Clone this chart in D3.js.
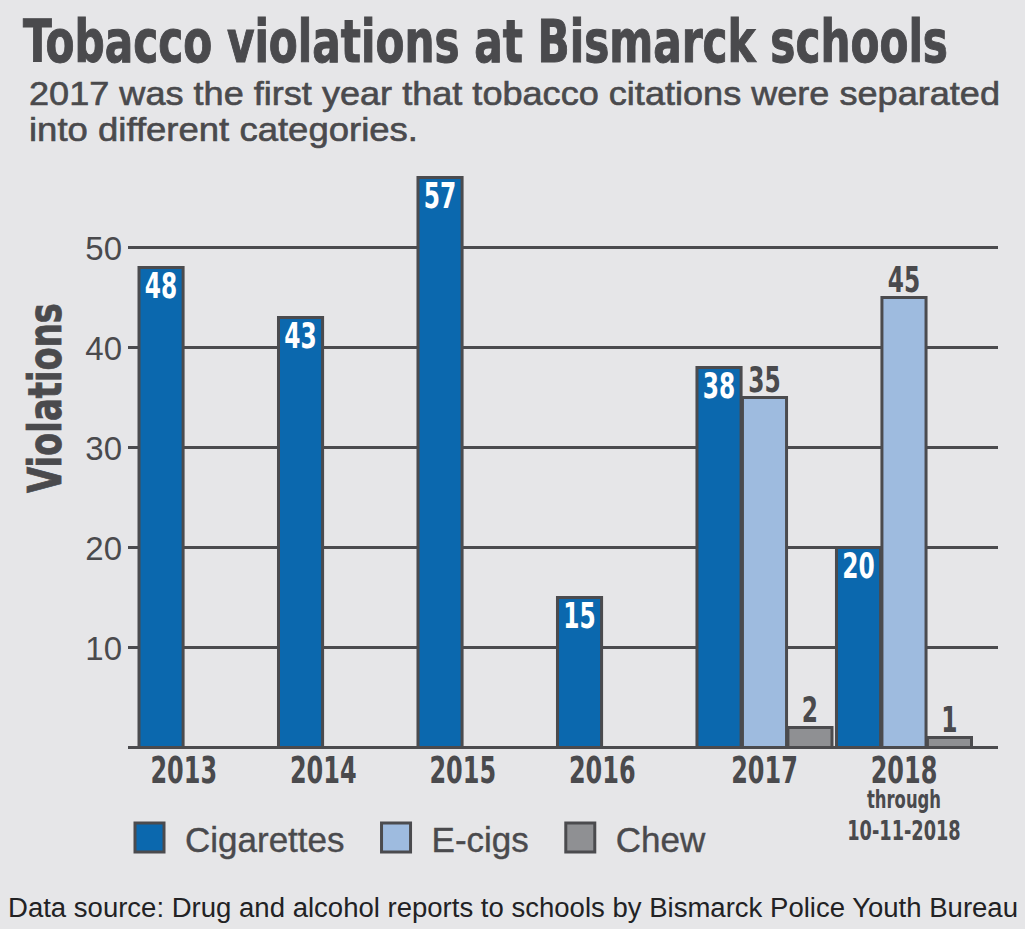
<!DOCTYPE html>
<html>
<head>
<meta charset="utf-8">
<script src="https://cdn.jsdelivr.net/npm/d3@7"></script>
<style>
  html, body { margin: 0; padding: 0; background: #e6e6e8; }
  svg { display: block; }
</style>
</head>
<body>
<svg id="chart" width="1025" height="929"></svg>
<script>
// ---- data ----
const years = ["2013", "2014", "2015", "2016", "2017", "2018"];
const series = ["Cigarettes", "E-cigs", "Chew"];
const cigarettes = [48, 43, 57, 15, 38, 20];
const ecigs = [null, null, null, null, 35, 45];
const chew = [null, null, null, null, 2, 1];
const yTicks = [10, 20, 30, 40, 50];
const yearNotes = { "2018": ["through", "10-11-2018"] };

const title = "Tobacco violations at Bismarck schools";
const subtitle = ["2017 was the first year that tobacco citations were separated", "into different categories."];
const yTitle = "Violations";
const source = "Data source: Drug and alcohol reports to schools by Bismarck Police Youth Bureau";

// ---- styles ----
const colors = { "Cigarettes": "#0b68ae", "E-cigs": "#9ebbdf", "Chew": "#8f9093" };
const ink = "#4a4a4d";
const strokeC = "#4b4b4e";
const condensed = "'Liberation Sans Narrow', 'DejaVu Sans Condensed', 'Arial Narrow', sans-serif";
const regular = "'Liberation Sans', Arial, sans-serif";

// squeeze a text horizontally to mimic a condensed face
function condense(sel, factor) {
  sel.each(function () {
    const w = this.getComputedTextLength();
    d3.select(this).attr("textLength", w * factor).attr("lengthAdjust", "spacingAndGlyphs");
  });
}

const svg = d3.select("#chart");
svg.append("rect").attr("width", 1025).attr("height", 929).attr("fill", "#e6e6e8");

const valuesBySeries = { "Cigarettes": cigarettes, "E-cigs": ecigs, "Chew": chew };
const rows = [];
years.forEach((yr, i) => {
  series.forEach(s => {
    const v = valuesBySeries[s][i];
    if (v !== null && v !== undefined) rows.push({ year: yr, series: s, value: v });
  });
});

// ---- scales ----
const y = d3.scaleLinear().domain([0, 60]).range([747.5, 147.5]);
const x0 = d3.scaleBand().domain(years).range([139, 971.5]).paddingInner(0.032).paddingOuter(0);
const x1 = d3.scaleBand().domain(series).range([0, x0.bandwidth()]).paddingInner(0.03);

// ---- title ----
svg.append("text").text(title)
  .attr("x", 23).attr("y", 62)
  .attr("font-family", condensed).attr("font-weight", "bold").attr("font-size", 58)
  .attr("fill", ink).attr("stroke", ink).attr("stroke-width", 1)
  .attr("textLength", 925).attr("lengthAdjust", "spacingAndGlyphs");

const subBase = [105, 141];
const subLen = [971, 389];
subtitle.forEach((line, i) => {
  svg.append("text").text(line)
    .attr("x", 29).attr("y", subBase[i])
    .attr("font-family", regular).attr("font-size", 33)
    .attr("fill", ink).attr("stroke", ink).attr("stroke-width", 0.6)
    .attr("textLength", subLen[i]).attr("lengthAdjust", "spacingAndGlyphs");
});

// ---- grid ----
const gridX = [128, 998];
const grid = svg.append("g");
grid.selectAll("line").data(yTicks).join("line")
  .attr("x1", gridX[0]).attr("x2", gridX[1])
  .attr("y1", d => y(d)).attr("y2", d => y(d))
  .attr("stroke", strokeC).attr("stroke-width", 3);

// y tick labels via axis
const yAxis = svg.append("g").attr("transform", `translate(${gridX[0]},0)`)
  .call(d3.axisLeft(y).tickValues(yTicks).tickSize(0).tickPadding(6));
yAxis.select(".domain").remove();
yAxis.selectAll("text")
  .attr("font-family", regular).attr("font-size", 33).attr("fill", ink)
  .attr("dy", "0.36em");

// y title
svg.append("text").text(yTitle)
  .attr("transform", "translate(61,398) rotate(-90)")
  .attr("text-anchor", "middle")
  .attr("font-family", condensed).attr("font-weight", "bold").attr("font-size", 46)
  .attr("fill", ink).attr("stroke", ink).attr("stroke-width", 0.8)
  .attr("textLength", 190).attr("lengthAdjust", "spacingAndGlyphs");

// ---- bars ----
svg.append("g").selectAll("rect").data(rows).join("rect")
  .attr("x", d => x0(d.year) + x1(d.series))
  .attr("width", x1.bandwidth())
  .attr("y", d => y(d.value))
  .attr("height", d => y(0) - y(d.value))
  .attr("fill", d => colors[d.series])
  .attr("stroke", strokeC).attr("stroke-width", 3);

// baseline
svg.append("line")
  .attr("x1", gridX[0]).attr("x2", gridX[1])
  .attr("y1", y(0)).attr("y2", y(0))
  .attr("stroke", strokeC).attr("stroke-width", 3);

// value labels
svg.append("g").selectAll("text").data(rows).join("text")
  .text(d => d.value)
  .attr("x", d => x0(d.year) + x1(d.series) + x1.bandwidth() / 2)
  .attr("y", d => d.series === "Cigarettes" ? y(d.value) + 30 : y(d.value) - 6)
  .attr("text-anchor", "middle")
  .attr("font-family", condensed).attr("font-weight", "bold").attr("font-size", 35)
  .attr("fill", d => d.series === "Cigarettes" ? "#ffffff" : ink)
  .call(condense, 0.74);

// ---- x labels ----
function labelX(yr) {
  const present = rows.filter(r => r.year === yr);
  const first = d3.min(present, r => x1(r.series));
  const last = d3.max(present, r => x1(r.series) + x1.bandwidth());
  const spanCenter = (first + last) / 2;
  return x0(yr) + (spanCenter + x0.bandwidth() / 2) / 2;
}
const xl = svg.append("g");
years.forEach(yr => {
  const cx = labelX(yr);
  xl.append("text").text(yr)
    .attr("x", cx).attr("y", 783).attr("text-anchor", "middle")
    .attr("font-family", condensed).attr("font-weight", "bold").attr("font-size", 38)
    .attr("fill", ink)
    .call(condense, 0.7);
  (yearNotes[yr] || []).forEach((n, j) => {
    xl.append("text").text(n)
      .attr("x", cx).attr("y", 808 + j * 32).attr("text-anchor", "middle")
      .attr("font-family", condensed).attr("font-weight", "bold").attr("font-size", j === 0 ? 25 : 27)
      .attr("fill", ink)
      .call(condense, 0.73);
  });
});

// ---- legend ----
const legend = svg.append("g");
let lx = 135;
series.forEach(s => {
  legend.append("rect")
    .attr("x", lx).attr("y", 823).attr("width", 29).attr("height", 29)
    .attr("fill", colors[s]).attr("stroke", strokeC).attr("stroke-width", 3);
  const t = legend.append("text").text(s)
    .attr("x", lx + 50).attr("y", 852)
    .attr("font-family", regular).attr("font-size", 35)
    .attr("fill", ink).attr("stroke", ink).attr("stroke-width", 0.4);
  const w = t.node().getComputedTextLength();
  lx = lx + 50 + w + 37;
});

// ---- source ----
svg.append("text").text(source)
  .attr("x", 8).attr("y", 917)
  .attr("font-family", regular).attr("font-size", 27)
  .attr("fill", "#222224")
  .attr("textLength", 1010).attr("lengthAdjust", "spacingAndGlyphs");
</script>
</body>
</html>
